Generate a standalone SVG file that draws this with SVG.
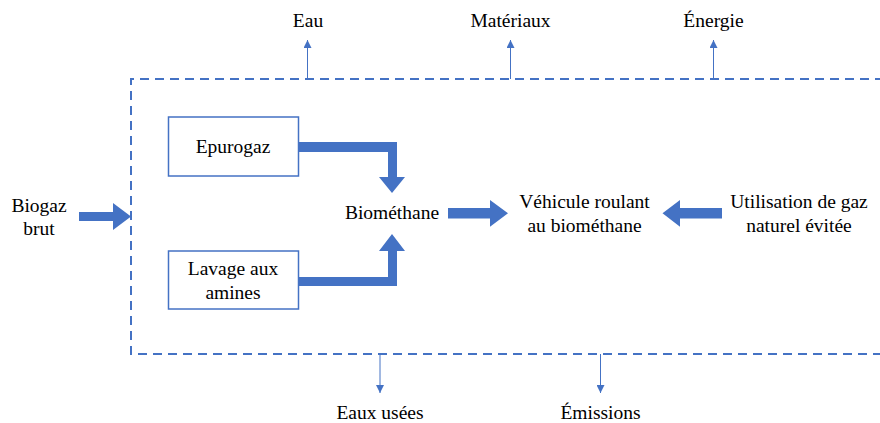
<svg xmlns="http://www.w3.org/2000/svg" width="880" height="423" viewBox="0 0 880 423">
<defs>
<style>
text{font-family:'Liberation Serif','Times New Roman',Tinos,'DejaVu Serif',serif;font-size:19.5px;fill:#000;text-anchor:middle}
.box{fill:#fff;stroke:#4472C4;stroke-width:1.5}
.boundary{fill:none;stroke:#4472C4;stroke-width:2;stroke-dasharray:9 6}
.big{fill:#4472C4;stroke:none}
.thin{stroke:#4472C4;stroke-width:1;fill:none;marker-end:url(#ah)}
</style>
<marker id="ah" viewBox="0 0 8 8" refX="8" refY="4" markerWidth="8" markerHeight="8" markerUnits="userSpaceOnUse" orient="auto">
<path d="M0,0 L8,4 L0,8 Z" fill="#4472C4"/>
</marker>
</defs>
<rect width="880" height="423" fill="#fff"/>
<path class="boundary" d="M884,79 H131 V354 H884"/>
<g id="connectors">
<line class="thin" x1="307.5" y1="79" x2="307.5" y2="40"/>
<line class="thin" x1="510.5" y1="79" x2="510.5" y2="40"/>
<line class="thin" x1="713.5" y1="79" x2="713.5" y2="40"/>
<line class="thin" x1="380" y1="354" x2="380" y2="393"/>
<line class="thin" x1="600.5" y1="354" x2="600.5" y2="393"/>
<path class="big" d="M79,212 H113 V203 L131,216.5 L113,230 V221 H79 Z"/>
<path class="big" d="M298,142 H397 V177 H405 L392,193 L379,177 H388 V152 H298 Z"/>
<path class="big" d="M298,286 H397 V251 H405 L392,234 L379,251 H388 V277 H298 Z"/>
<path class="big" d="M448,208 H490 V200 L508,213.3 L490,226.7 V218.5 H448 Z"/>
<path class="big" d="M722,208 H680 V200 L662.5,213.3 L680,226.7 V218.5 H722 Z"/>
</g>
<g id="eau"><text x="308" y="27" font-family="Liberation Serif, serif">Eau</text></g>
<g id="materiaux"><text x="510.5" y="27" font-family="Liberation Serif, serif">Matériaux</text></g>
<g id="energie"><text x="713.5" y="27" font-family="Liberation Serif, serif">Énergie</text></g>
<g id="biogaz-brut"><text x="39" y="212" font-family="Liberation Serif, serif">Biogaz</text><text x="39" y="235" font-family="Liberation Serif, serif">brut</text></g>
<g id="epurogaz"><rect class="box" x="168.5" y="117" width="130" height="59"/><text x="233" y="153" font-family="Liberation Serif, serif">Epurogaz</text></g>
<g id="lavage"><rect class="box" x="168.5" y="251" width="130" height="58"/><text x="233" y="275" font-family="Liberation Serif, serif">Lavage aux</text><text x="233" y="298.5" font-family="Liberation Serif, serif">amines</text></g>
<g id="biomethane"><text x="392" y="219" font-family="Liberation Serif, serif">Biométhane</text></g>
<g id="vehicule"><text x="584.5" y="208" font-family="Liberation Serif, serif">Véhicule roulant</text><text x="584.5" y="231.5" font-family="Liberation Serif, serif">au biométhane</text></g>
<g id="gaz-naturel"><text x="799" y="208" font-family="Liberation Serif, serif">Utilisation de gaz</text><text x="799" y="231.5" font-family="Liberation Serif, serif">naturel évitée</text></g>
<g id="eaux-usees"><text x="380" y="419" font-family="Liberation Serif, serif">Eaux usées</text></g>
<g id="emissions"><text x="600.5" y="419" font-family="Liberation Serif, serif">Émissions</text></g>
</svg>
